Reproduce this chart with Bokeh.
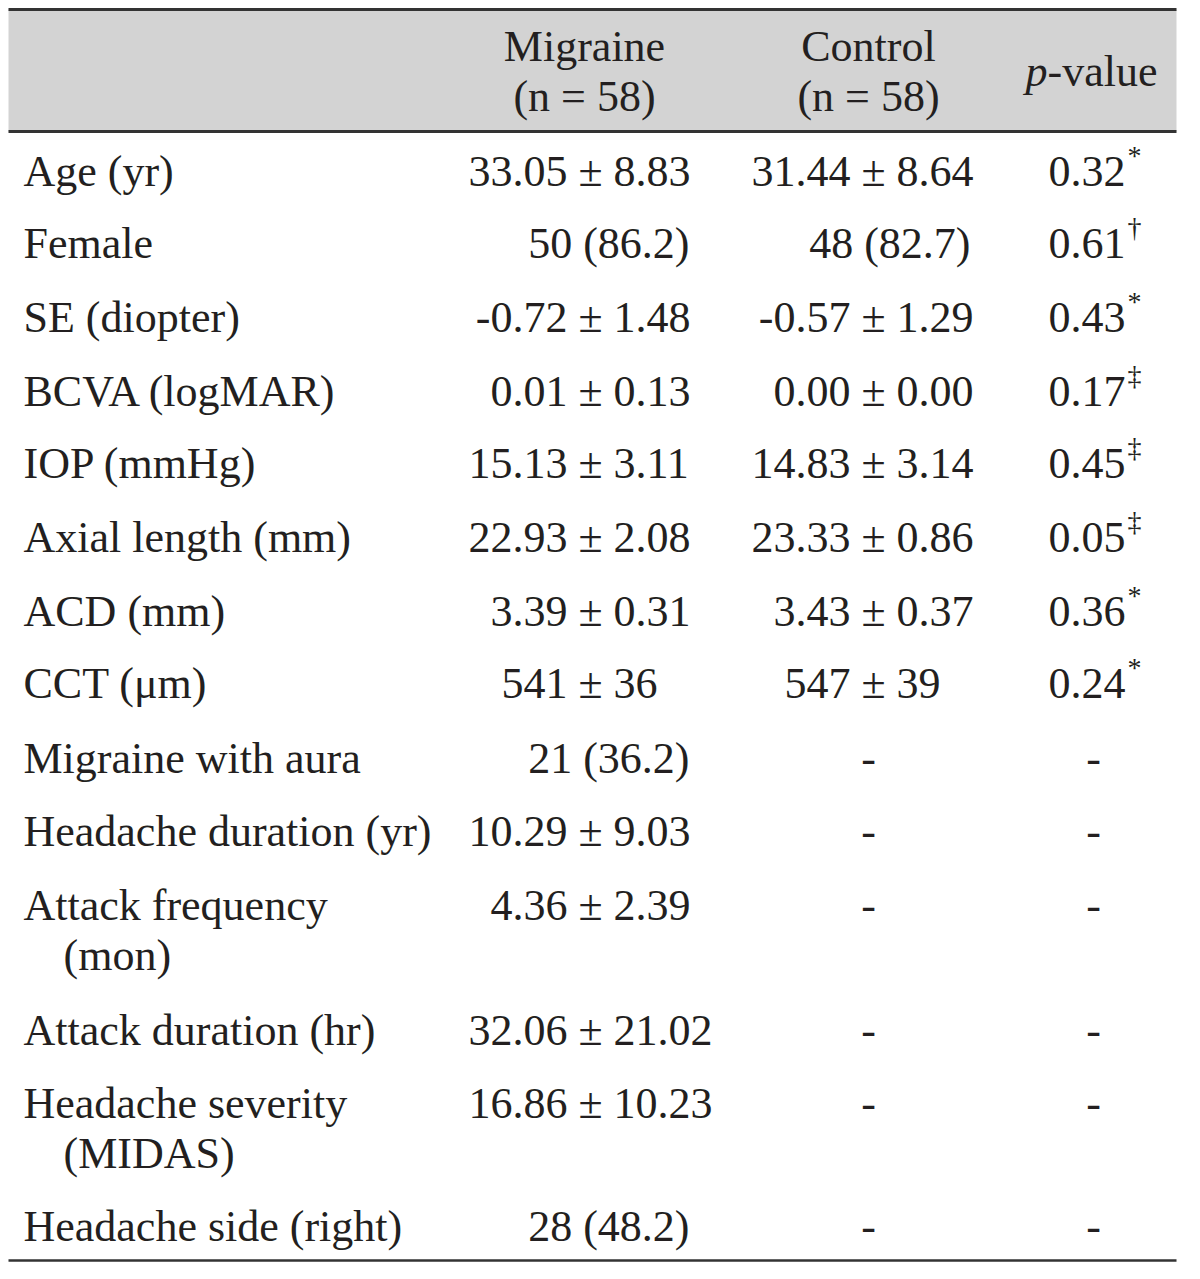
from bokeh.plotting import figure
from bokeh.models import Range1d, ColumnDataSource
from bokeh.core.properties import value
from bokeh.embed import file_html
from bokeh.resources import INLINE

# ---------------- data ----------------
col_headers = ["Migraine\n(n = 58)", "Control\n(n = 58)"]
p_header_italic = "p"
p_header_rest = "-value"

row_labels = [
    "Age (yr)", "Female", "SE (diopter)", "BCVA (logMAR)", "IOP (mmHg)",
    "Axial length (mm)", "ACD (mm)", "CCT (\u03bcm)", "Migraine with aura",
    "Headache duration (yr)", "Attack frequency\n(mon)", "Attack duration (hr)",
    "Headache severity\n(MIDAS)", "Headache side (right)",
]
migraine = [
    "33.05 \u00b1 8.83", "50 (86.2)", "-0.72 \u00b1 1.48", "0.01 \u00b1 0.13",
    "15.13 \u00b1 3.11", "22.93 \u00b1 2.08", "3.39 \u00b1 0.31", "541 \u00b1 36",
    "21 (36.2)", "10.29 \u00b1 9.03", "4.36 \u00b1 2.39", "32.06 \u00b1 21.02",
    "16.86 \u00b1 10.23", "28 (48.2)",
]
control = [
    "31.44 \u00b1 8.64", "48 (82.7)", "-0.57 \u00b1 1.29", "0.00 \u00b1 0.00",
    "14.83 \u00b1 3.14", "23.33 \u00b1 0.86", "3.43 \u00b1 0.37", "547 \u00b1 39",
    "-", "-", "-", "-", "-", "-",
]
p_values = ["0.32", "0.61", "0.43", "0.17", "0.45", "0.05", "0.36", "0.24",
            "-", "-", "-", "-", "-", "-"]
p_marks = ["*", "\u2020", "*", "\u2021", "\u2021", "\u2021", "*", "*",
           "", "", "", "", "", ""]

# ---------------- layout ----------------
FONT = "Liberation Serif"
FS = 44
SUP_FS = 28
LINE_GAP = 50
row_baselines = [179, 251, 325, 399, 471, 545, 619, 691, 766, 839, 913, 1038, 1111, 1234]
LABEL_X = 31
CONT_X = 71
PM_D = 23
col_layout = [  # (plus-minus x, right-align x, dash x)
    (598, 697, 590),
    (881, 978, 876),
]
P_RIGHT = 1133
P_DASH = 1101
HEADER_CENTERS = [592, 876]
HEADER_BASE = [54, 104]
P_HEADER_X = 1055
P_HEADER_BASE = 79
LEFT, RIGHT = 16, 1184
INK = "#231f20"

W, H = 1184, 1263
p = figure(width=W, height=H, output_backend="svg", toolbar_location=None,
           x_range=Range1d(8, 8 + W), y_range=Range1d(8 + H, 8),
           min_border=0)
p.axis.visible = False
p.grid.visible = False
p.outline_line_color = None
p.background_fill_color = "white"

# header band and rules
p.quad(left=[LEFT], right=[RIGHT], top=[17], bottom=[139], fill_color="#d3d3d3", line_color=None)
p.segment(x0=[LEFT, LEFT, LEFT], x1=[RIGHT, RIGHT, RIGHT], y0=[17, 139, 1268], y1=[17, 139, 1268],
          line_color="#333333", line_width=[3, 3, 2.5])

texts = {"left": dict(x=[], y=[], t=[]), "right": dict(x=[], y=[], t=[]), "center": dict(x=[], y=[], t=[])}


def add(align, x, y, t):
    d = texts[align]
    d["x"].append(x)
    d["y"].append(y)
    d["t"].append(t)


# headers
for hdr, cx in zip(col_headers, HEADER_CENTERS):
    for line, by in zip(hdr.split("\n"), HEADER_BASE):
        add("center", cx, by, line)
add("left", P_HEADER_X, P_HEADER_BASE, p_header_rest)

# row labels
for lab, by in zip(row_labels, row_baselines):
    parts = lab.split("\n")
    add("left", LABEL_X, by, parts[0])
    for k, extra in enumerate(parts[1:], start=1):
        add("left", CONT_X, by + k * LINE_GAP, extra)

# value columns
for values, (pmx, rx, dx) in zip([migraine, control], col_layout):
    for v, by in zip(values, row_baselines):
        if " \u00b1 " in v:
            a, b = v.split(" \u00b1 ")
            add("right", pmx - PM_D, by, a)
            add("center", pmx, by, "\u00b1")
            add("left", pmx + PM_D, by, b)
        elif v == "-":
            add("center", dx, by, v)
        else:
            add("right", rx, by, v)

# p-values
sup = dict(x=[], y=[], t=[])
for v, m, by in zip(p_values, p_marks, row_baselines):
    if v == "-":
        add("center", P_DASH, by, v)
    else:
        add("right", P_RIGHT, by, v)
        if m:
            sup["x"].append(P_RIGHT + 2)
            sup["y"].append(by - 16)
            sup["t"].append(m)

for align, d in texts.items():
    src = ColumnDataSource(data=d)
    p.text(x="x", y="y", text="t", source=src, text_align=align, text_baseline="middle",
           text_font=value(FONT), text_font_size=f"{FS}px", text_color=INK)

p.text(x=[P_HEADER_X], y=[P_HEADER_BASE], text=[p_header_italic], text_align="right",
       text_baseline="middle", text_font=value(FONT), text_font_size=f"{FS}px",
       text_font_style="italic", text_color=INK)

p.text(x="x", y="y", text="t", source=ColumnDataSource(data=sup), text_align="left",
       text_baseline="middle", text_font=value(FONT), text_font_size=f"{SUP_FS}px", text_color=INK)

open("out.html", "w").write(file_html(p, INLINE))
